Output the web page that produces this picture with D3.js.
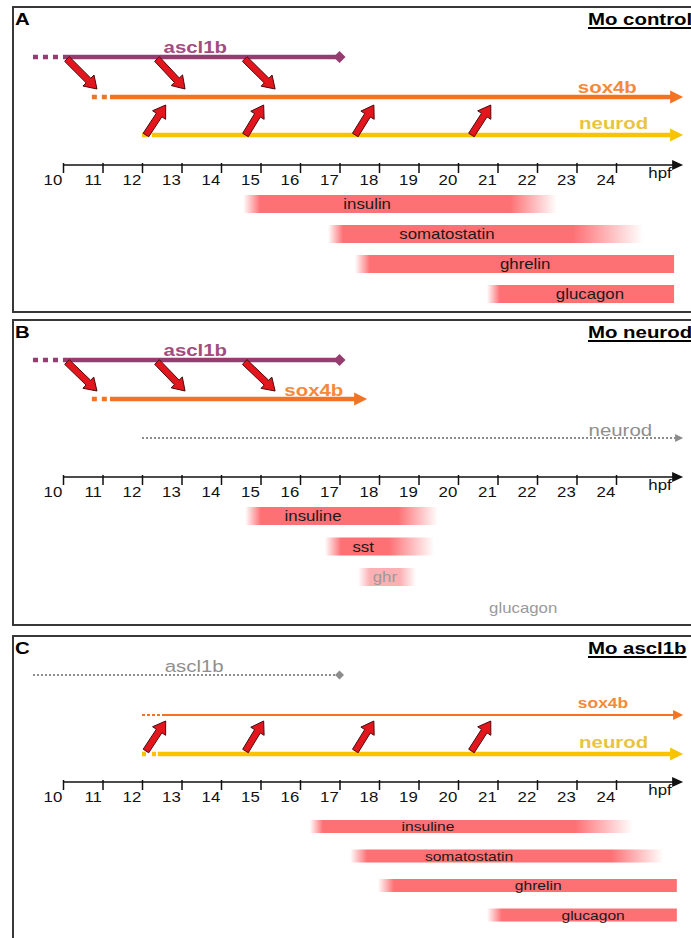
<!DOCTYPE html>
<html><head><meta charset="utf-8">
<script src="https://cdn.jsdelivr.net/npm/d3@7"></script>
<style>body{margin:0;background:#fff;overflow:hidden}svg{display:block}</style>
</head><body>
<script>
// ================= DATA (hours post fertilization) =================
const tickHours = [10,11,12,13,14,15,16,17,18,19,20,21,22,23,24];
const axisUnit = "hpf";
const panelLetters = ["A","B","C"];
const panelTitles = ["Mo control","Mo neurod","Mo ascl1b"];

// gene expression tracks: dashed onset, solid onset, end
const tracksA = [
  {gene:"ascl1b", from:9.24, solid:10.0, to:17.0, tip:"diamond", state:"on"},
  {gene:"sox4b",  from:10.73, solid:11.19, to:25.7, tip:"arrow", state:"on"},
  {gene:"neurod", from:12.0, solid:12.25, to:25.7, tip:"arrow", state:"on"}
];
const tracksB = [
  {gene:"ascl1b", from:9.24, solid:10.0, to:17.0, tip:"diamond", state:"on"},
  {gene:"sox4b",  from:10.73, solid:11.19, to:17.7, tip:"arrow", state:"on"},
  {gene:"neurod", from:12.0, solid:null, to:25.7, tip:"arrow", state:"lost"}
];
const tracksC = [
  {gene:"ascl1b", from:9.24, solid:null, to:17.0, tip:"diamond", state:"lost"},
  {gene:"sox4b",  from:12.0, solid:12.53, to:25.7, tip:"arrow", state:"weak"},
  {gene:"neurod", from:12.0, solid:12.4, to:25.7, tip:"arrow", state:"on"}
];

// activation arrows [start hour, end hour]
const ascl1bToSox4b = [[10.1,10.86],[12.38,13.09],[14.6,15.37]];
const neurodToSox4b = [[12.1,12.6],[14.62,15.08],[17.4,17.87],[20.34,20.83]];

// hormone expression: fade-in start, full on, full off, fade-out end
const hormonesA = [
  {name:"insulin",      fadeIn:14.56, on:14.99, off:21.32, fadeOut:22.5},
  {name:"somatostatin", fadeIn:16.71, on:17.09, off:22.91, fadeOut:24.68},
  {name:"ghrelin",      fadeIn:17.39, on:17.77, off:25.47, fadeOut:25.47},
  {name:"glucagon",     fadeIn:20.73, on:21.06, off:25.47, fadeOut:25.47}
];
const hormonesB = [
  {name:"insuline", fadeIn:14.61, on:15.01, off:18.48, fadeOut:19.49, level:"normal"},
  {name:"sst",      fadeIn:16.63, on:17.04, off:18.25, fadeOut:19.39, level:"normal"},
  {name:"ghr",      fadeIn:17.47, on:17.77, off:18.53, fadeOut:18.94, level:"weak"},
  {name:"glucagon", fadeIn:null, on:null, off:null, fadeOut:null, level:"absent"}
];
const hormonesC = [
  {name:"insuline",     fadeIn:16.25, on:16.58, off:22.96, fadeOut:24.43},
  {name:"somatostatin", fadeIn:17.27, on:17.7,  off:23.87, fadeOut:25.2},
  {name:"ghrelin",      fadeIn:17.97, on:18.38, off:25.54, fadeOut:25.54},
  {name:"glucagon",     fadeIn:20.73, on:21.11, off:25.54, fadeOut:25.54}
];

// ================= LAYOUT / STYLE =================
const W = 691, H = 938;
const FONT = "'Liberation Sans', Arial, Helvetica, sans-serif";
const SX = 1.2; // horizontal stretch of the original picture
const geneColor = {ascl1b:"#963c70", sox4b:"#f27321", neurod:"#f8c300"};
const geneLabelColor = {ascl1b:"#a24d7d", sox4b:"#f5893a", neurod:"#e8c53d"};
const barColor = "#fd7074";

const layout = [
  {top:7, bottom:312, rows:{ascl1b:57, sox4b:97, neurod:135}, axisY:165,
   barTop:195, barStep:30, barH:18, barFont:14,
   tracks:tracksA, hormones:hormonesA,
   geneLabels:{ascl1b:{h:13.35,dy:-4,size:17}, sox4b:{h:23.78,dy:-4,size:17}, neurod:{h:23.94,dy:-6,size:17}},
   hormoneLabelHours:[17.7,19.72,21.7,23.34], down:true, up:true},
  {top:320, bottom:625, rows:{ascl1b:360, sox4b:399, neurod:438}, axisY:477,
   barTop:507, barStep:30.5, barH:18, barFont:14,
   tracks:tracksB, hormones:hormonesB,
   geneLabels:{ascl1b:{h:13.35,dy:-4,size:17}, sox4b:{h:16.35,dy:-3,size:17}, neurod:{h:24.11,dy:-2,size:17}},
   hormoneLabelHours:[16.33,17.6,18.15,21.65], down:true, up:false},
  {top:636, bottom:960, rows:{ascl1b:675, sox4b:715, neurod:754}, axisY:782,
   barTop:820, barStep:29.5, barH:13, barFont:13,
   tracks:tracksC, hormones:hormonesC,
   geneLabels:{ascl1b:{h:13.32,dy:-3,size:17}, sox4b:{h:23.67,dy:-7,size:14.5}, neurod:{h:23.94,dy:-6,size:17}},
   hormoneLabelHours:[19.24,20.28,22.03,23.42], down:false, up:true}
];

const svg = d3.select("body").append("svg").attr("width", W).attr("height", H);
const defs = svg.append("defs");
const x = d3.scaleLinear().domain([10, 24]).range([63, 616]);

function txt(g, s, px, py, o) {
  return g.append("text")
    .attr("transform", `translate(${px},${py}) scale(${SX},1)`)
    .attr("text-anchor", o.anchor || "middle")
    .attr("font-family", FONT)
    .attr("font-size", o.size)
    .attr("font-weight", o.weight || "normal")
    .attr("fill", o.fill || "#111")
    .text(s);
}

function blockArrow(g, x1, y1, x2, y2) {
  const dx = x2 - x1, dy = y2 - y1, L = Math.hypot(dx, dy);
  const ux = dx / L, uy = dy / L, nx = -uy, ny = ux;
  const sw = 3.3, hw = 7.8, hl = 12;
  const bx = x2 - ux * hl, by = y2 - uy * hl;
  const pts = [
    [x1 + nx*sw, y1 + ny*sw], [bx + nx*sw, by + ny*sw], [bx + nx*hw, by + ny*hw],
    [x2, y2], [bx - nx*hw, by - ny*hw], [bx - nx*sw, by - ny*sw], [x1 - nx*sw, y1 - ny*sw]
  ];
  g.append("polygon").attr("points", pts.map(p => p.join(",")).join(" "))
    .attr("fill", "#e3161d").attr("stroke", "#4a0a0a").attr("stroke-width", 1)
    .attr("stroke-linejoin", "miter");
}

layout.forEach((L, pi) => {
  const g = svg.append("g");
  // frame
  g.append("rect").attr("x", 13).attr("y", L.top).attr("width", 700).attr("height", L.bottom - L.top)
    .attr("fill", "none").attr("stroke", "#383838").attr("stroke-width", 2);
  txt(g, panelLetters[pi], 15, L.top + 18, {anchor:"start", size:17, weight:"bold", fill:"#000"});
  const tt = txt(g, panelTitles[pi], 588, L.top + 18, {anchor:"start", size:17, weight:"bold", fill:"#000"});
  const tw = tt.node().getComputedTextLength() * SX;
  g.append("line").attr("x1", 588).attr("x2", 588 + tw).attr("y1", L.top + 21).attr("y2", L.top + 21)
    .attr("stroke", "#000").attr("stroke-width", 2);

  // gene tracks
  L.tracks.forEach(t => {
    const y = L.rows[t.gene];
    const lost = t.state === "lost", weak = t.state === "weak";
    const col = lost ? "#8c8c8c" : geneColor[t.gene];
    const sw = lost ? 2 : (weak ? 2 : 4.5);
    const tipX = x(t.to);
    const headL = lost ? 8 : (weak ? 10 : 13), headW = lost ? 4 : (weak ? 5 : 6.5);
    const lineEnd = t.tip === "arrow" ? tipX - headL + 1 : tipX;
    if (lost) {
      g.append("line").attr("x1", x(t.from)).attr("x2", lineEnd).attr("y1", y).attr("y2", y)
        .attr("stroke", col).attr("stroke-width", sw).attr("stroke-dasharray", "2,2");
    } else {
      g.append("line").attr("x1", x(t.from)).attr("x2", x(t.solid)).attr("y1", y).attr("y2", y)
        .attr("stroke", col).attr("stroke-width", sw)
        .attr("stroke-dasharray", weak ? "3,2" : (t.gene === "neurod" && pi === 2 ? "4,6" : "5,5"));
      g.append("line").attr("x1", x(t.solid)).attr("x2", lineEnd).attr("y1", y).attr("y2", y)
        .attr("stroke", col).attr("stroke-width", sw);
    }
    if (t.tip === "arrow") {
      g.append("polygon")
        .attr("points", `${tipX - headL},${y - headW} ${tipX},${y} ${tipX - headL},${y + headW}`)
        .attr("fill", col);
    } else {
      const d = lost ? 4.5 : 6;
      g.append("polygon")
        .attr("points", `${tipX - d},${y} ${tipX},${y - d} ${tipX + d},${y} ${tipX},${y + d}`)
        .attr("fill", col);
    }
    const gl = L.geneLabels[t.gene];
    txt(g, t.gene, x(gl.h), y + gl.dy, {
      size: gl.size, weight: lost ? "normal" : "bold",
      fill: lost ? "#8f8f8f" : geneLabelColor[t.gene]
    });
  });

  // activation arrows
  if (L.down) ascl1bToSox4b.forEach(([a, b]) =>
    blockArrow(g, x(a), L.rows.ascl1b + 2, x(b), L.rows.sox4b - 8));
  if (L.up) neurodToSox4b.forEach(([a, b]) =>
    blockArrow(g, x(a), L.rows.neurod - (pi === 2 ? 3 : 0), x(b), L.rows.sox4b + (pi === 2 ? 6 : 8)));

  // axis
  const axG = g.append("g").attr("transform", `translate(0,${L.axisY})`);
  axG.call(d3.axisBottom(x).tickValues(tickHours).tickSize(8).tickSizeOuter(0).tickPadding(2)
    .tickFormat(d3.format("d")));
  axG.select(".domain").remove();
  axG.selectAll(".tick line").attr("y1", -2).attr("stroke", "#111").attr("stroke-width", 1.5);
  axG.selectAll(".tick text").attr("text-anchor", "end").attr("x", -1)
    .attr("transform", `scale(${SX},1)`).attr("font-family", FONT).attr("font-size", 14).attr("fill", "#111");
  const axEnd = x(25.7);
  axG.append("line").attr("x1", x(10)).attr("x2", axEnd - 9).attr("y1", 0).attr("y2", 0)
    .attr("stroke", "#111").attr("stroke-width", 1.5);
  axG.append("polygon").attr("points", `${axEnd - 11},-5 ${axEnd},0 ${axEnd - 11},5`).attr("fill", "#111");
  txt(g, axisUnit, 660, L.axisY + 12.5, {size:14, fill:"#111"});

  // hormone bars
  L.hormones.forEach((hm, i) => {
    const y0 = L.barTop + i * L.barStep;
    const lx = x(L.hormoneLabelHours[i]);
    const absent = hm.level === "absent", weakB = hm.level === "weak";
    if (!absent) {
      const xa = x(hm.fadeIn), xb = x(hm.on), xc = x(hm.off), xd = x(hm.fadeOut);
      const id = `grad${pi}_${i}`;
      const span = xd - xa;
      const col = weakB ? "#fbb0b3" : barColor;
      const gr = defs.append("linearGradient").attr("id", id).attr("gradientUnits", "userSpaceOnUse")
        .attr("x1", xa).attr("x2", xd).attr("y1", 0).attr("y2", 0);
      [[0, 0], [(xb - xa) / span, 1], [(xc - xa) / span, 1], [1, xd > xc ? 0 : 1]].forEach(([o, op]) =>
        gr.append("stop").attr("offset", o).attr("stop-color", col).attr("stop-opacity", op));
      g.append("rect").attr("x", xa).attr("y", y0).attr("width", span).attr("height", L.barH)
        .attr("fill", `url(#${id})`);
    }
    txt(g, hm.name, lx, y0 + L.barH / 2 + L.barFont * 0.36, {
      size: L.barFont, fill: (absent || weakB) ? "#9a9a9a" : "#1a1a1a"
    });
  });
});
</script>
</body></html>
